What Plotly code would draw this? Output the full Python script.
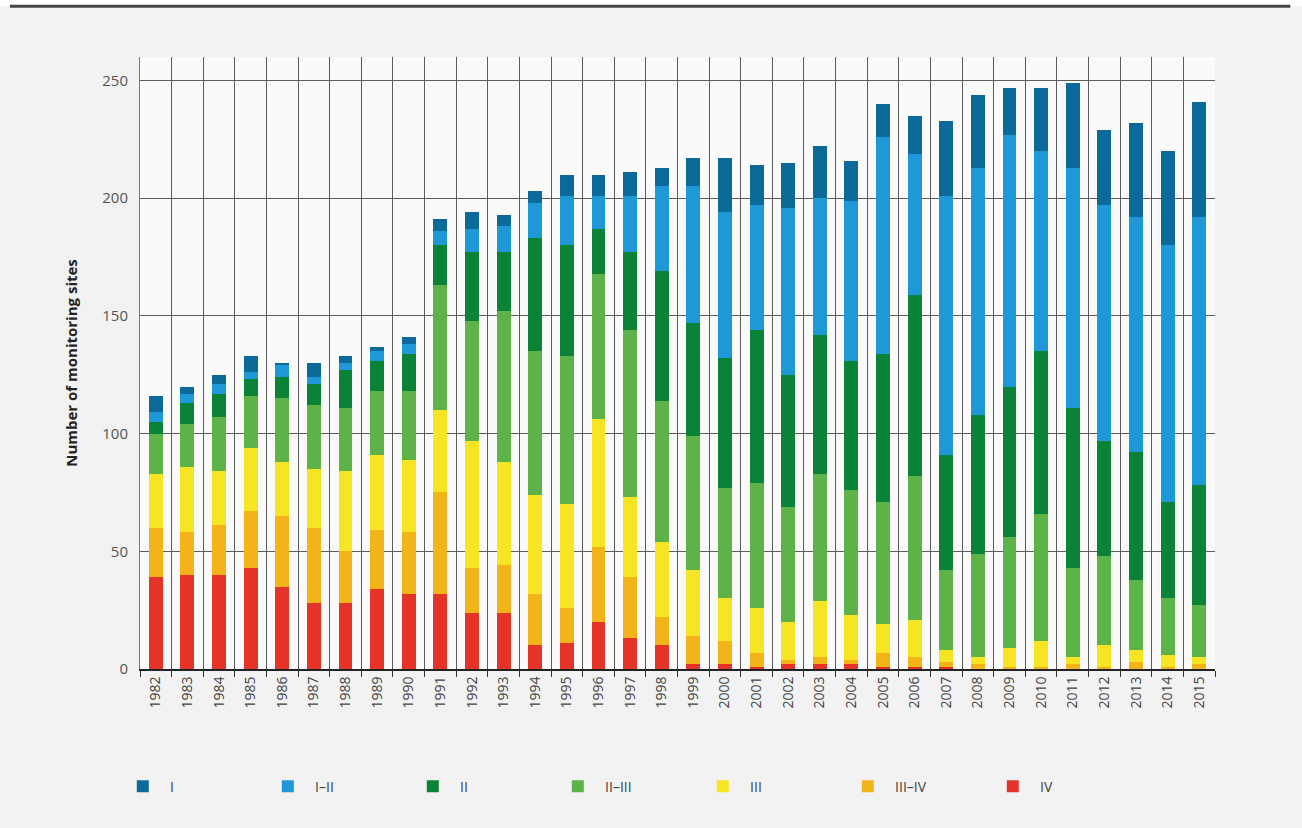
import plotly.graph_objects as go

# Years on the x axis
years = [str(y) for y in range(1982, 2016)]

# Number of monitoring sites per water quality class
class_IV = [39, 40, 40, 43, 35, 28, 28, 34, 32, 32, 24, 24, 10, 11, 20, 13, 10,
            2, 2, 1, 2, 2, 2, 1, 1, 1, 0, 0, 0, 0, 0, 0, 0, 0]
class_III_IV = [21, 18, 21, 24, 30, 32, 22, 25, 26, 43, 19, 20, 22, 15, 32, 26, 12,
                12, 10, 6, 2, 3, 2, 6, 4, 2, 2, 1, 1, 2, 1, 3, 1, 2]
class_III = [23, 28, 23, 27, 23, 25, 34, 32, 31, 35, 54, 44, 42, 44, 54, 34, 32,
             28, 18, 19, 16, 24, 19, 12, 16, 5, 3, 8, 11, 3, 9, 5, 5, 3]
class_II_III = [17, 18, 23, 22, 27, 27, 27, 27, 29, 53, 51, 64, 61, 63, 62, 71, 60,
                57, 47, 53, 49, 54, 53, 52, 61, 34, 44, 47, 54, 38, 38, 30, 24, 22]
class_II = [5, 9, 10, 7, 9, 9, 16, 13, 16, 17, 29, 25, 48, 47, 19, 33, 55,
            48, 55, 65, 56, 59, 55, 63, 77, 49, 59, 64, 69, 68, 49, 54, 41, 51]
class_I_II = [4, 4, 4, 3, 5, 3, 3, 4, 4, 6, 10, 11, 15, 21, 14, 24, 36,
              58, 62, 53, 71, 58, 68, 92, 60, 110, 105, 107, 85, 102, 100, 100, 109, 114]
class_I = [7, 3, 4, 7, 1, 6, 3, 2, 3, 5, 7, 5, 5, 9, 9, 10, 8,
           12, 23, 17, 19, 22, 17, 14, 16, 32, 31, 20, 27, 36, 32, 40, 40, 49]

series = [
    ("I", class_I, "#0b6a99"),
    ("I–II", class_I_II, "#1e98d6"),
    ("II", class_II, "#0a8337"),
    ("II–III", class_II_III, "#5db347"),
    ("III", class_III, "#f7e423"),
    ("III–IV", class_III_IV, "#f3b419"),
    ("IV", class_IV, "#e4342a"),
]
names = [s[0] for s in series]

fig = go.Figure()
# stack from the bottom (IV) upwards
for name, vals, col in reversed(series):
    fig.add_trace(go.Bar(x=years, y=vals, name="\u00a0\u00a0" + name, marker_color=col,
                         marker_line_width=0, legendrank=names.index(name)))

grid_col = "#5c5c5c"
fig.update_layout(
    barmode="stack",
    bargap=0.56,
    width=1302, height=828,
    margin=dict(l=140, r=87, t=57, b=159),
    paper_bgcolor="#f2f2f2",
    plot_bgcolor="#fafafa",
    font=dict(family="Open Sans, sans-serif", color="#444"),
    showlegend=True,
    legend=dict(orientation="h", x=-0.016, y=-0.166, xanchor="left", yanchor="top",
                entrywidth=100, entrywidthmode="pixels", traceorder="normal",
                font=dict(size=14, color="#444"), bgcolor="rgba(0,0,0,0)"),
    xaxis=dict(
        type="category", tickson="boundaries", showgrid=True, gridcolor=grid_col,
        gridwidth=1, ticks="outside", ticklen=6, tickcolor="#333", tickangle=-90,
        tickfont=dict(size=14, color="#444"), showline=True, linecolor="#222",
        linewidth=2, mirror=False,
    ),
    yaxis=dict(
        range=[0, 260], tickvals=[0, 50, 100, 150, 200, 250], showgrid=True,
        gridcolor=grid_col, gridwidth=1, zeroline=False, showline=True,
        linecolor="#777", linewidth=1, ticks="", ticklabelstandoff=8,
        tickfont=dict(size=15, color="#555"),
        title=dict(text="<b>Number of monitoring sites</b>", standoff=21,
                   font=dict(size=15, color="#222")),
    ),
)

# white strip and dark rule along the top of the panel
fig.add_shape(type="rect", xref="paper", yref="paper", x0=-0.14, x1=1.09,
              y0=1.083, y1=1.1, fillcolor="white", line_width=0, layer="below")
fig.add_shape(type="line", xref="paper", yref="paper", x0=-0.121, x1=1.07,
              y0=1.083, y1=1.083, line=dict(color="#444", width=3))

fig.write_html("out.html", config={"displayModeBar": False},
               post_script="document.body.style.margin='0';")
